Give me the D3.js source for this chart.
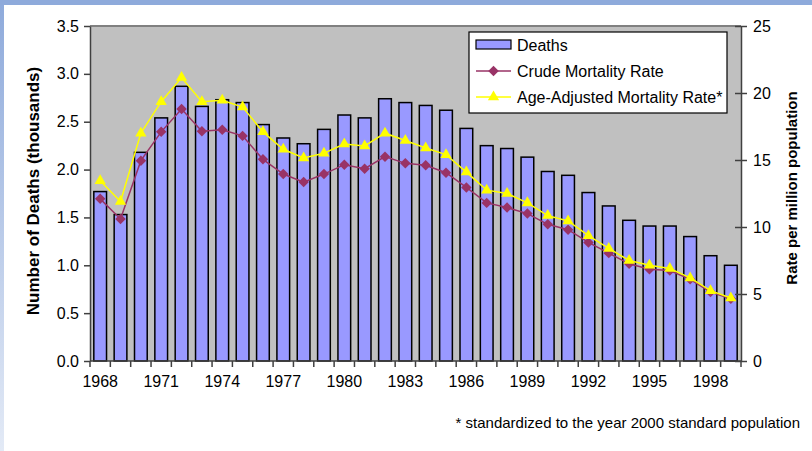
<!DOCTYPE html>
<html>
  <head>
    <meta charset="utf-8">
    <title>Deaths and mortality rates</title>
    <script src="https://d3js.org/d3.v7.min.js"></script>
    <style>
    body { margin: 0; background: #fff; }
    text { font-family: "Liberation Sans", Arial, sans-serif; fill: #000; }
    .axis path, .axis line { stroke: #404040; stroke-width: 1.5px; }
    .axis text { font-size: 16px; font-family: "Liberation Sans", Arial, sans-serif; }
    </style>
  </head>
  <body>
    <script>
      // ---- data ----
      const years = d3.range(1968, 2000);
      const deaths = [1.77, 1.53, 2.18, 2.54, 2.87, 2.66, 2.73, 2.70, 2.47, 2.33, 2.27, 2.42,
                      2.57, 2.54, 2.74, 2.70, 2.67, 2.62, 2.43, 2.25, 2.22, 2.13, 1.98, 1.94,
                      1.76, 1.62, 1.47, 1.41, 1.41, 1.30, 1.10, 1.00];
      const crudeRate = [12.1, 10.6, 14.95, 17.1, 18.8, 17.15, 17.25, 16.8, 15.05, 13.95, 13.35, 13.95,
                         14.65, 14.35, 15.25, 14.75, 14.6, 14.05, 12.95, 11.8, 11.45, 11.0, 10.2, 9.8,
                         8.85, 8.05, 7.25, 6.85, 6.75, 6.1, 5.15, 4.65];
      const ageAdjRate = [13.45, 11.9, 17.0, 19.35, 21.15, 19.35, 19.45, 18.95, 17.1, 15.8, 15.15, 15.5,
                          16.2, 16.05, 17.0, 16.45, 15.9, 15.4, 14.1, 12.75, 12.5, 11.8, 10.85, 10.45,
                          9.35, 8.4, 7.5, 7.15, 6.9, 6.2, 5.25, 4.7];
      const leftTicks = [0, 0.5, 1.0, 1.5, 2.0, 2.5, 3.0, 3.5];
      const rightTicks = [0, 5, 10, 15, 20, 25];
      const yearLabels = years.filter((d, i) => i % 3 === 0);

      const width = 812, height = 451;
      const plot = { left: 90, right: 741, top: 26, bottom: 361 };

      const svg = d3.select("body").append("svg")
          .attr("width", width)
          .attr("height", height);

      // slide-style frame: blue band on top, fading band on the left
      const defs = svg.append("defs");
      const grad = defs.append("linearGradient")
          .attr("id", "sideFade")
          .attr("x1", 0).attr("y1", 0).attr("x2", 0).attr("y2", 1);
      grad.append("stop").attr("offset", "0%").attr("stop-color", "#8eaadb");
      grad.append("stop").attr("offset", "100%").attr("stop-color", "#e3eaf6");

      svg.append("rect").attr("x", 0).attr("y", 0).attr("width", width).attr("height", height).attr("fill", "#fff");
      svg.append("rect").attr("x", 0).attr("y", 0).attr("width", 4).attr("height", height).attr("fill", "url(#sideFade)");
      svg.append("rect").attr("x", 0).attr("y", 0).attr("width", width).attr("height", 5).attr("fill", "#8eaadb");

      // ---- scales ----
      const x = d3.scaleBand()
          .domain(years)
          .range([plot.left, plot.right])
          .paddingInner(0.375)
          .paddingOuter(0.1875);

      const yLeft = d3.scaleLinear().domain([0, 3.5]).range([plot.bottom, plot.top]);
      const yRight = d3.scaleLinear().domain([0, 25]).range([plot.bottom, plot.top]);

      // plot area
      svg.append("rect")
          .attr("x", plot.left).attr("y", plot.top)
          .attr("width", plot.right - plot.left)
          .attr("height", plot.bottom - plot.top)
          .attr("fill", "#c0c0c0");
      svg.append("line")
          .attr("x1", plot.left).attr("x2", plot.right)
          .attr("y1", plot.top).attr("y2", plot.top)
          .attr("stroke", "#808080").attr("stroke-width", 2);

      // ---- bars ----
      svg.append("g").selectAll("rect")
        .data(years)
        .join("rect")
          .attr("x", d => x(d))
          .attr("y", (d, i) => yLeft(deaths[i]))
          .attr("width", x.bandwidth())
          .attr("height", (d, i) => yLeft(0) - yLeft(deaths[i]))
          .attr("fill", "#9999ff")
          .attr("stroke", "#000")
          .attr("stroke-width", 1.5);

      // ---- axes ----
      const leftAxis = d3.axisLeft(yLeft)
          .tickValues(leftTicks)
          .tickFormat(d3.format(".1f"))
          .tickSizeInner(6).tickSizeOuter(0).tickPadding(5);
      svg.append("g")
          .attr("class", "axis")
          .attr("transform", "translate(" + plot.left + ",0)")
          .call(leftAxis);

      const rightAxis = d3.axisRight(yRight)
          .tickValues(rightTicks)
          .tickSizeInner(6).tickSizeOuter(0).tickPadding(6);
      const gRight = svg.append("g")
          .attr("class", "axis")
          .attr("transform", "translate(" + plot.right + ",0)")
          .call(rightAxis);
      // ticks cross the right axis line
      gRight.selectAll(".tick line").attr("x1", -6);

      // bottom axis: ticks between categories, labels every third year
      const step = x.step();
      const gBottom = svg.append("g")
          .attr("class", "axis")
          .attr("transform", "translate(0," + plot.bottom + ")");
      gBottom.append("line")
          .attr("x1", plot.left).attr("x2", plot.right)
          .attr("y1", 0).attr("y2", 0);
      gBottom.selectAll("line.tk")
        .data(years.concat([2000]))
        .join("line")
          .attr("class", "tk")
          .attr("x1", (d, i) => plot.left + i * step)
          .attr("x2", (d, i) => plot.left + i * step)
          .attr("y1", 0).attr("y2", 6);
      gBottom.selectAll("text")
        .data(yearLabels)
        .join("text")
          .attr("x", d => x(d) + x.bandwidth() / 2)
          .attr("y", 26)
          .attr("text-anchor", "middle")
          .text(d => d);

      // ---- lines ----
      const rateLine = d3.line()
          .x((d, i) => x(years[i]) + x.bandwidth() / 2)
          .y(d => yRight(d));

      svg.append("path")
          .datum(crudeRate)
          .attr("d", rateLine)
          .attr("fill", "none")
          .attr("stroke", "#993366")
          .attr("stroke-width", 1.5);
      svg.append("g").selectAll("path")
        .data(crudeRate)
        .join("path")
          .attr("transform", (d, i) => "translate(" + (x(years[i]) + x.bandwidth() / 2) + "," + yRight(d) + ")")
          .attr("d", d3.symbol(d3.symbolDiamond2, 70))
          .attr("fill", "#993366");

      svg.append("path")
          .datum(ageAdjRate)
          .attr("d", rateLine)
          .attr("fill", "none")
          .attr("stroke", "#ffff00")
          .attr("stroke-width", 1.5);
      svg.append("g").selectAll("path")
        .data(ageAdjRate)
        .join("path")
          .attr("transform", (d, i) => "translate(" + (x(years[i]) + x.bandwidth() / 2) + "," + yRight(d) + ")")
          .attr("d", d3.symbol(d3.symbolTriangle, 55))
          .attr("fill", "#ffff00");

      // ---- axis titles ----
      svg.append("text")
          .attr("transform", "translate(39,191) rotate(-90)")
          .attr("text-anchor", "middle")
          .style("font-size", "17px")
          .style("font-weight", "bold")
          .text("Number of Deaths (thousands)");

      svg.append("text")
          .attr("transform", "translate(797,188) rotate(-90)")
          .attr("text-anchor", "middle")
          .style("font-size", "15px")
          .style("font-weight", "bold")
          .text("Rate per million population");

      // ---- legend ----
      const legend = svg.append("g").attr("transform", "translate(469,32)");
      legend.append("rect")
          .attr("width", 258).attr("height", 81)
          .attr("fill", "#fff").attr("stroke", "#000").attr("stroke-width", 1.2);

      legend.append("rect")
          .attr("x", 7).attr("y", 8).attr("width", 35).attr("height", 9)
          .attr("fill", "#9999ff").attr("stroke", "#000").attr("stroke-width", 1.2);
      legend.append("line")
          .attr("x1", 7).attr("x2", 42).attr("y1", 39).attr("y2", 39)
          .attr("stroke", "#993366").attr("stroke-width", 1.5);
      legend.append("path")
          .attr("transform", "translate(24.5,39)")
          .attr("d", d3.symbol(d3.symbolDiamond2, 70))
          .attr("fill", "#993366");
      legend.append("line")
          .attr("x1", 7).attr("x2", 42).attr("y1", 65).attr("y2", 65)
          .attr("stroke", "#ffff00").attr("stroke-width", 1.5);
      legend.append("path")
          .attr("transform", "translate(24.5,65)")
          .attr("d", d3.symbol(d3.symbolTriangle, 55))
          .attr("fill", "#ffff00");

      const legendLabels = ["Deaths", "Crude Mortality Rate", "Age-Adjusted Mortality Rate*"];
      legend.selectAll("text.lbl")
        .data(legendLabels)
        .join("text")
          .attr("class", "lbl")
          .attr("x", 48)
          .attr("y", (d, i) => 13 + i * 26)
          .attr("dy", "0.35em")
          .style("font-size", "16px")
          .text(d => d);

      // ---- footnote ----
      svg.append("text")
          .attr("x", 800).attr("y", 428)
          .attr("text-anchor", "end")
          .style("font-size", "15px")
          .text("* standardized to the year 2000 standard population");
    </script>
  </body>
</html>
